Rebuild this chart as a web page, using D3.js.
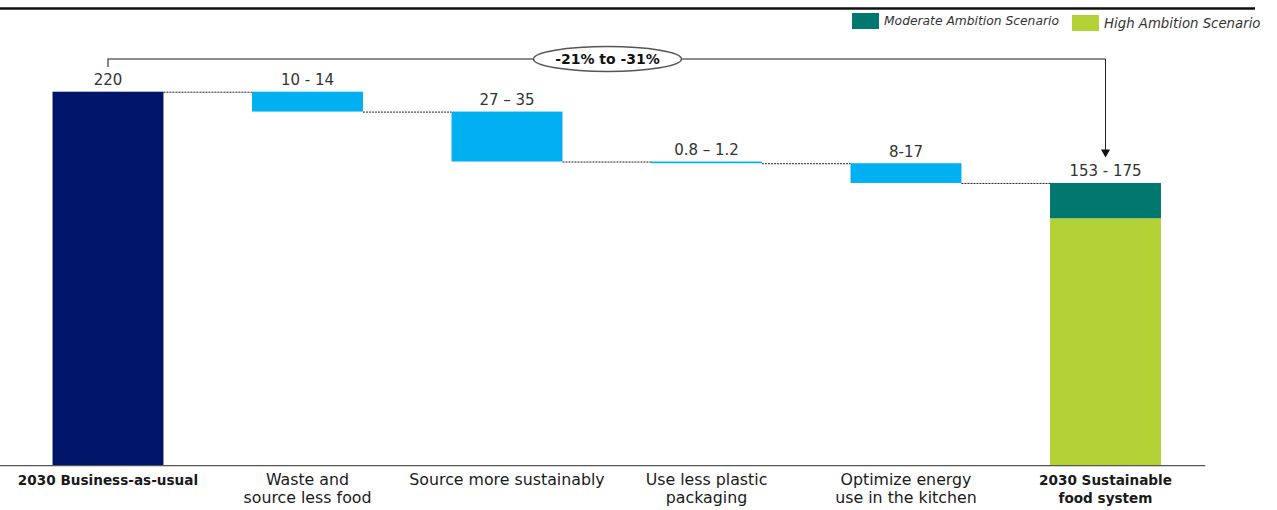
<!DOCTYPE html>
<html><head><meta charset="utf-8">
<script src="https://cdn.jsdelivr.net/npm/d3@7"></script>
<style>body{margin:0;background:#fff}svg{display:block}text{font-family:"DejaVu Sans",sans-serif}</style>
</head><body>
<svg id="c" width="1277" height="510"></svg>
<script>
const categories = ["2030 Business-as-usual", "Waste and|source less food", "Source more sustainably", "Use less plastic|packaging", "Optimize energy|use in the kitchen", "2030 Sustainable|food system"];
const boldCats = [true, false, false, false, false, true];
const valueLabels = ["220", "10 - 14", "27 \u2013 35", "0.8 \u2013 1.2", "8-17", "153 - 175"];
const baseline = 220;
const reductions = [11.7, 29.4, 1.0, 11.6];
const highAmbition = 145.5;
const moderateExtra = 20.8;
const legendItems = ["Moderate Ambition Scenario", "High Ambition Scenario"];
const bracketLabel = "-21% to -31%";

const C = {navy:"#00146A", blue:"#00B0F0", teal:"#00776F", green:"#B3D235"};
const svg = d3.select("#c");
const x = d3.scaleBand().domain(d3.range(categories.length)).range([8.25, 1205.25]).paddingInner(0.444).paddingOuter(0.222);
const y = d3.scaleLinear().domain([0, 220]).range([465.5, 91.7]);
const bw = x.bandwidth();

// top rule
svg.append("line").attr("x1",0).attr("x2",1255).attr("y1",8.5).attr("y2",8.5).attr("stroke","#111").attr("stroke-width",2.5);

// build waterfall segments
const segs = [];
segs.push({i:0, y0:0, y1:baseline, color:C.navy});
let run = baseline;
reductions.forEach((r,k)=>{ segs.push({i:k+1, y0:run-r, y1:run, color:C.blue}); run -= r; });
const finalTotal = highAmbition + moderateExtra;
segs.push({i:5, y0:0, y1:highAmbition, color:C.green});
segs.push({i:5, y0:highAmbition, y1:finalTotal, color:C.teal});

svg.append("g").selectAll("rect").data(segs).join("rect")
  .attr("x", d=>x(d.i)).attr("width", bw)
  .attr("y", d=>y(d.y1)).attr("height", d=>Math.max(1.5, y(d.y0)-y(d.y1)))
  .attr("fill", d=>d.color);

// connectors
const levels = [baseline];
run = baseline;
reductions.forEach(r=>{ run -= r; levels.push(run); });
svg.append("g").selectAll("line").data(levels).join("line")
  .attr("x1",(d,k)=>x(k)+bw).attr("x2",(d,k)=>x(k+1))
  .attr("y1",d=>y(d)+0.5).attr("y2",d=>y(d)+0.5)
  .attr("stroke","#222").attr("stroke-width",1).attr("stroke-dasharray","2,1");

// value labels
const tops = [baseline];
run = baseline;
reductions.forEach(r=>{ tops.push(run); run -= r; });
tops.push(finalTotal);
svg.append("g").selectAll("text").data(valueLabels).join("text")
  .attr("x",(d,k)=>x(k)+bw/2).attr("y",(d,k)=>y(tops[k])-6.5)
  .attr("text-anchor","middle").attr("font-size",15).attr("fill","#333").text(d=>d);

// axis line
svg.append("line").attr("x1",0).attr("x2",x.range()[1]).attr("y1",465.7).attr("y2",465.7).attr("stroke","#555").attr("stroke-width",1.3);

// category labels
const cg = svg.append("g");
categories.forEach((c,k)=>{
  const t = cg.append("text").attr("x",x(k)+bw/2).attr("y",485).attr("text-anchor","middle")
    .attr("font-size",boldCats[k]?13.6:15.8).attr("fill","#1a1a1a").attr("font-weight",boldCats[k]?"bold":"normal");
  c.split("|").forEach((ln,j)=>t.append("tspan").attr("x",x(k)+bw/2).attr("dy",j?18:0).text(ln));
});

// bracket
const xl = x(0)+bw/2, xr = x(5)+bw/2, yb = 59;
svg.append("path").attr("d",`M${xl},67V${yb}H${xr}`).attr("fill","none").attr("stroke","#666").attr("stroke-width",1.6);
svg.append("line").attr("x1",xr).attr("x2",xr).attr("y1",yb).attr("y2",151).attr("stroke","#222").attr("stroke-width",1);
svg.append("path").attr("d",`M${xr-4.5},149.5L${xr+4.5},149.5L${xr},157.5Z`).attr("fill","#111");
svg.append("ellipse").attr("cx",607.5).attr("cy",yb).attr("rx",74).attr("ry",12.5).attr("fill","#fff").attr("stroke","#555").attr("stroke-width",1.5);
svg.append("text").attr("x",607.5).attr("y",yb+5).attr("text-anchor","middle").attr("font-size",14).attr("font-weight","bold").attr("fill","#111").text(bracketLabel);

// legend
const lg = svg.append("g");
lg.append("rect").attr("x",852).attr("y",13).attr("width",27).attr("height",16).attr("fill",C.teal);
lg.append("text").attr("x",884).attr("y",25).attr("font-size",12.3).attr("font-style","italic").attr("fill","#333").text(legendItems[0]);
lg.append("rect").attr("x",1072).attr("y",15).attr("width",27).attr("height",16).attr("fill",C.green);
lg.append("text").attr("x",1104).attr("y",28).attr("font-size",13.3).attr("font-style","italic").attr("fill","#333").text(legendItems[1]);
</script>
</body></html>
